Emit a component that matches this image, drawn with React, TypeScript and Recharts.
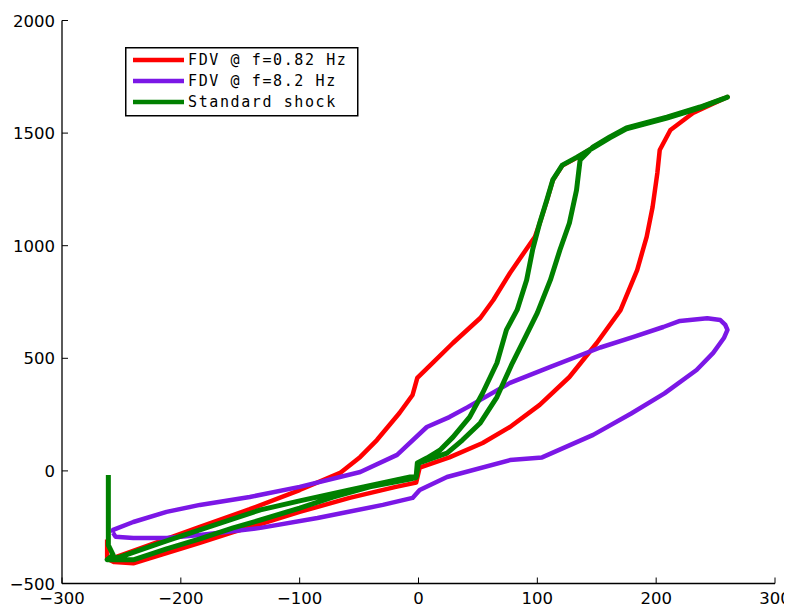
import React from 'react';
import { ScatterChart, Scatter, XAxis, YAxis, Legend } from 'recharts';

const xTicks = [-300, -200, -100, 0, 100, 200, 300];
const yTicks = [-500, 0, 500, 1000, 1500, 2000];

const seriesNames = ['FDV @ f=0.82 Hz', 'FDV @ f=8.2 Hz', 'Standard shock'];
const seriesColors = ['#ff0000', '#7b17e6', '#008000'];

const redPts: [number, number][] = [
  [-262, -305], [-262, -390], [-256, -405], [-240, -410], [-212, -365], [-184, -320],
  [-156, -272], [-133, -236], [-100, -182], [-58, -120], [-20, -72], [-2, -52],
  [1, 15], [26, 60], [54, 124], [77, 195], [102, 293], [127, 417], [150, 568],
  [170, 714], [184, 892], [192, 1039], [197, 1172], [201, 1323], [203, 1425],
  [212, 1514], [231, 1589], [260, 1660], [237, 1614], [209, 1569], [175, 1521],
  [161, 1481], [147, 1437], [133, 1390], [121, 1356], [113, 1290], [108, 1200],
  [102, 1100], [98, 1040], [77, 879], [63, 759], [52, 679], [29, 568], [10, 470],
  [-1, 413], [-5, 337], [-16, 257], [-35, 137], [-49, 62], [-66, -9], [-100, -85],
  [-142, -170], [-184, -249], [-226, -329], [-256, -385],
];

const purplePts: [number, number][] = [
  [-257, -275], [-255, -292], [-240, -298], [-212, -298], [-184, -285], [-133, -253],
  [-85, -209], [-30, -151], [-5, -120], [1, -85], [24, -27], [77, 48], [104, 60],
  [147, 160], [179, 255], [207, 344], [234, 448], [248, 524], [257, 590], [260, 626],
  [258, 650], [254, 670], [243, 678], [220, 666], [206, 639], [181, 595], [153, 548],
  [111, 462], [77, 391], [41, 282], [26, 239], [7, 195], [-18, 71], [-49, -5],
  [-100, -71], [-142, -116], [-184, -151], [-212, -182], [-240, -227], [-257, -262],
  [-257, -275],
];

const greenPts: [number, number][] = [
  [-261, -18], [-261, -330], [-257, -373], [-262, -394], [-240, -395], [-212, -346],
  [-184, -302], [-156, -253], [-133, -218], [-100, -165], [-72, -116], [-41, -71],
  [-7, -36], [-2, -30], [0, 35], [12, 57], [24, 79], [37, 137], [52, 213], [66, 328],
  [79, 479], [90, 595], [100, 702], [111, 848], [119, 981], [127, 1101], [133, 1247],
  [136, 1381], [147, 1439], [161, 1483], [175, 1523], [209, 1571], [237, 1616],
  [260, 1660], [237, 1612], [209, 1567], [175, 1519], [161, 1479], [147, 1435],
  [133, 1392], [121, 1358], [113, 1292], [108, 1203], [102, 1101], [96, 981],
  [91, 848], [83, 715], [74, 626], [66, 479], [54, 346], [43, 239], [29, 150],
  [18, 92], [7, 57], [-1, 35], [-2, -27], [-7, -27], [-58, -85], [-100, -133],
  [-133, -173], [-156, -213], [-184, -262], [-212, -311], [-251, -382], [-262, -392],
];

const toObj = (a: [number, number][]) => a.map(([x, y]) => ({ x, y }));

const FONT = '"DejaVu Sans", "Bitstream Vera Sans", sans-serif';
const MONO = '"DejaVu Sans Mono", monospace';

const fmt = (v: number) => (v < 0 ? '\u2212' + Math.abs(v) : String(v));

const EmptyShape = () => <g />;

const BottomTick = (props: any) => {
  const { x, y, payload } = props;
  return (
    <g>
      <line x1={x} x2={x} y1={y - 8} y2={y - 14} stroke="#000" strokeWidth={1} />
      <text x={x} y={y + 12.5} textAnchor="middle" fontSize={16.5} fontFamily={FONT} fill="#000">
        {fmt(payload.value)}
      </text>
    </g>
  );
};

const LeftTick = (props: any) => {
  const { x, y, payload } = props;
  return (
    <g>
      <line x1={x + 7} x2={x + 13} y1={y} y2={y} stroke="#000" strokeWidth={1} />
      <text x={x} y={y + 6} textAnchor="end" fontSize={16.5} fontFamily={FONT} fill="#000">
        {fmt(payload.value)}
      </text>
    </g>
  );
};

const TopTick = (props: any) => {
  const { x, y } = props;
  return <line x1={x} x2={x} y1={y} y2={y + 6} stroke="#000" strokeWidth={1} />;
};

const RightTick = (props: any) => {
  const { x, y } = props;
  return <line x1={x} x2={x - 6} y1={y} y2={y} stroke="#000" strokeWidth={1} />;
};

const renderLegend = () => (
  <svg width={234} height={70} style={{ display: 'block' }}>
    <rect x={0.75} y={0.75} width={232} height={68} fill="#fff" stroke="#000" strokeWidth={1.5} />
    {seriesNames.map((n, i) => (
      <g key={n}>
        <line x1={8} x2={59} y1={13 + i * 21} y2={13 + i * 21} stroke={seriesColors[i]} strokeWidth={4.5} />
        <text x={63} y={18 + i * 21} fontSize={15} fontFamily={MONO} letterSpacing={1.6} fill="#000">
          {n}
        </text>
      </g>
    ))}
  </svg>
);

const axisLine = { stroke: '#000', strokeWidth: 1.3 };

export default function App() {
  return (
    <div style={{ position: 'relative', width: 784, height: 597 }}>
      <ScatterChart width={784} height={597} margin={{ top: 12.5, right: 17, bottom: 1.5, left: 4 }}>
        <XAxis
          type="number"
          dataKey="x"
          domain={[-300, 300]}
          ticks={xTicks}
          allowDataOverflow
          height={20}
          tickSize={0}
          tickMargin={8}
          tick={BottomTick}
          axisLine={axisLine}
          interval={0}
        />
        <XAxis
          xAxisId="top"
          orientation="top"
          type="number"
          dataKey="x"
          domain={[-300, 300]}
          ticks={xTicks}
          allowDataOverflow
          height={0}
          tickSize={0}
          tickMargin={0}
          tick={TopTick}
          axisLine={axisLine}
          interval={0}
        />
        <YAxis
          type="number"
          dataKey="y"
          domain={[-500, 2000]}
          ticks={yTicks}
          allowDataOverflow
          width={50}
          tickSize={0}
          tickMargin={7}
          tick={LeftTick}
          axisLine={axisLine}
          interval={0}
        />
        <YAxis
          yAxisId="right"
          orientation="right"
          type="number"
          dataKey="y"
          domain={[-500, 2000]}
          ticks={yTicks}
          allowDataOverflow
          width={0}
          tickSize={0}
          tickMargin={0}
          tick={RightTick}
          axisLine={axisLine}
          interval={0}
        />
        <Legend
          layout="vertical"
          align="center"
          verticalAlign="middle"
          content={renderLegend}
          wrapperStyle={{ position: 'absolute', left: 117, top: 39, width: 234, height: 70 }}
        />
        <Scatter
          name={seriesNames[0]}
          data={toObj(redPts)}
          fill={seriesColors[0]}
          line={{ stroke: seriesColors[0], strokeWidth: 4.5, strokeLinejoin: 'round' }}
          lineJointType="linear"
          shape={EmptyShape}
          isAnimationActive={false}
        />
        <Scatter
          name={seriesNames[1]}
          data={toObj(purplePts)}
          fill={seriesColors[1]}
          line={{ stroke: seriesColors[1], strokeWidth: 4.5, strokeLinejoin: 'round' }}
          lineJointType="linear"
          shape={EmptyShape}
          isAnimationActive={false}
        />
        <Scatter
          name={seriesNames[2]}
          data={toObj(greenPts)}
          fill={seriesColors[2]}
          line={{ stroke: seriesColors[2], strokeWidth: 5, strokeLinejoin: 'round' }}
          lineJointType="linear"
          shape={EmptyShape}
          isAnimationActive={false}
        />
      </ScatterChart>
    </div>
  );
}
